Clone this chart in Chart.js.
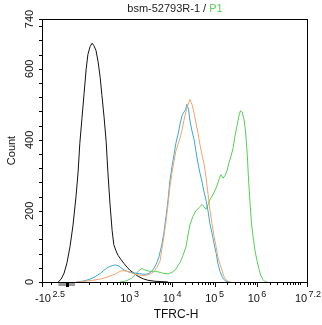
<!DOCTYPE html>
<html>
<head>
<meta charset="utf-8">
<script src="https://cdn.jsdelivr.net/npm/chart.js@4.4.1/dist/chart.umd.min.js"></script>
<style>
  html, body { margin: 0; padding: 0; background: #fff; }
  canvas { display: block; }
</style>
</head>
<body>
<canvas id="histChart" width="322" height="325"></canvas>
<script>
// Histogramas TFRC-H - eje X en unidades de decada (escala biexponencial)
const FONT = '"Liberation Sans", Arial, sans-serif';

// Control (negro)
const blackX = [1.32,1.39,1.46,1.53,1.60,1.67,1.74,1.79,1.83,1.88,1.93,1.98,2.02,2.07,2.12,2.16,2.21,2.26,2.31,2.35,2.40,2.45,2.49,2.54,2.59,2.63,2.68,2.73,2.80,2.87,2.94,3.01,3.11,3.20,3.32,3.43,3.60,3.76,3.91];
const blackY = [0,8,25,55,100,160,240,310,390,460,530,600,640,662,672,665,652,620,575,525,465,395,310,220,145,105,88,75,63,52,42,33,24,16,9,5,2,1,0];

// Naranja
const orangeX = [1.74,1.95,2.14,2.31,2.45,2.56,2.66,2.73,2.80,2.87,2.94,3.04,3.13,3.25,3.36,3.48,3.58,3.65,3.72,3.76,3.81,3.86,3.91,3.95,4.00,4.05,4.09,4.14,4.19,4.24,4.28,4.33,4.38,4.42,4.47,4.52,4.56,4.61,4.66,4.71,4.75,4.80,4.85,4.89,4.94,4.99,5.04,5.08,5.13,5.18,5.22,5.27,5.32,5.39];
const orangeY = [0,2,5,8,13,18,22,27,31,32,30,26,22,19,18,22,30,42,60,92,128,172,222,268,308,342,368,388,405,430,455,480,500,514,500,475,450,420,385,355,335,295,245,205,165,128,98,70,50,32,16,6,2,0];

// Azul
const blueX = [1.76,1.93,2.07,2.19,2.31,2.40,2.49,2.59,2.66,2.73,2.80,2.87,2.96,3.08,3.20,3.32,3.41,3.48,3.55,3.62,3.69,3.76,3.81,3.86,3.91,3.95,4.00,4.05,4.09,4.14,4.19,4.24,4.28,4.32,4.35,4.39,4.42,4.47,4.52,4.56,4.61,4.66,4.71,4.75,4.80,4.85,4.89,4.94,4.99,5.04,5.08,5.13,5.18,5.22,5.27,5.34];
const blueY = [0,3,8,15,24,33,41,46,48,46,40,34,29,26,24,22,22,26,34,48,70,105,140,185,235,285,325,360,390,415,445,470,478,485,500,485,455,425,400,370,335,305,280,255,230,198,165,138,108,80,52,29,15,7,2,0];

// P1 (verde)
const greenX = [2.78,2.92,3.04,3.13,3.22,3.29,3.36,3.43,3.53,3.62,3.72,3.81,3.91,4.00,4.09,4.19,4.26,4.33,4.38,4.42,4.49,4.56,4.64,4.71,4.75,4.80,4.85,4.89,4.96,5.04,5.11,5.15,5.20,5.25,5.29,5.34,5.39,5.44,5.48,5.53,5.58,5.61,5.65,5.69,5.73,5.77,5.80,5.84,5.87,5.91,5.95,6.00,6.05,6.09,6.14,6.19,6.24];
const greenY = [0,3,10,20,32,38,34,31,30,30,27,24,23,27,36,55,75,100,135,160,184,200,210,218,212,205,218,231,245,265,290,302,292,300,312,335,355,378,410,440,470,482,478,460,425,360,290,215,165,125,90,60,35,18,7,1,0];

// Ejes
const xMajorValues = [-316, 1e3, 1e4, 1e5, 1e6, Math.pow(10, 7.2)];
const xMajorLabels = [['-10', '2.5'], ['10', '3'], ['10', '4'], ['10', '5'], ['10', '6'], ['10', '7.2']];
const yLabels = [0, 200, 400, 600, 740];
const yMinorStep = 40;

// valor -> posicion en el eje (lineal bajo cero, asinh hasta 10^3, log arriba)
function toAxis(v) {
  if (v < 0) return 1.535 + v * 0.001883;
  if (v < 1000) return 1.535 + Math.asinh(v / 69.5) / Math.LN10;
  return Math.log10(v);
}

function xMinorValues() {
  const out = [-200, -100];
  for (let m = 1; m <= 9; m++) out.push(m * 100);
  for (let e = 3; e <= 6; e++) {
    for (let m = 2; m <= 9; m++) out.push(m * Math.pow(10, e));
  }
  out.push(1e7);
  return out;
}

function pts(xs, ys) {
  return xs.map((x, i) => ({x: x, y: ys[i]}));
}

const axisFrame = {
  id: 'axisFrame',
  afterDraw(chart) {
    const {ctx, chartArea: a, scales: {x, y}} = chart;
    ctx.save();
    ctx.strokeStyle = '#000';
    ctx.fillStyle = '#000';
    ctx.lineWidth = 1;
    ctx.strokeRect(a.left + 0.5, a.top + 0.5, a.right - a.left - 1, a.bottom - a.top);

    // ticks eje Y
    ctx.beginPath();
    for (let v = 0; v <= 740; v += yMinorStep) {
      const py = Math.round(y.getPixelForValue(v)) + 0.5;
      ctx.moveTo(a.left - 3, py);
      ctx.lineTo(a.left, py);
    }
    const pTop = Math.round(y.getPixelForValue(740)) + 0.5;
    ctx.moveTo(a.left - 3, pTop);
    ctx.lineTo(a.left, pTop);
    ctx.stroke();

    ctx.font = '11px ' + FONT;
    ctx.fillStyle = '#111';
    ctx.textAlign = 'center';
    ctx.textBaseline = 'alphabetic';
    yLabels.forEach(v => {
      ctx.save();
      ctx.translate(33, y.getPixelForValue(v));
      ctx.rotate(-Math.PI / 2);
      ctx.fillText(String(v), 0, 0);
      ctx.restore();
    });
    ctx.save();
    ctx.translate(15, (a.top + a.bottom) / 2);
    ctx.rotate(-Math.PI / 2);
    ctx.fillText('Count', 0, 0);
    ctx.restore();

    // ticks eje X
    ctx.strokeStyle = '#000';
    ctx.beginPath();
    xMinorValues().forEach(v => {
      const px = Math.round(x.getPixelForValue(toAxis(v))) + 0.5;
      ctx.moveTo(px, a.bottom);
      ctx.lineTo(px, a.bottom + 3);
    });
    xMajorValues.forEach(v => {
      const px = Math.min(Math.round(x.getPixelForValue(toAxis(v))), a.right - 1) + 0.5;
      ctx.moveTo(px, a.bottom);
      ctx.lineTo(px, a.bottom + 5);
    });
    ctx.stroke();

    // zona lineal y marca del cero
    const z0 = x.getPixelForValue(toAxis(-110));
    const z1 = x.getPixelForValue(toAxis(30));
    ctx.fillStyle = '#9a9a9a';
    ctx.fillRect(z0, a.bottom + 1, z1 - z0, 3);
    ctx.fillStyle = '#000';
    const zc = Math.round(x.getPixelForValue(toAxis(0)));
    ctx.fillRect(zc - 1, a.bottom + 1, 3, 4);

    // etiquetas con exponente
    ctx.fillStyle = '#111';
    ctx.textAlign = 'left';
    xMajorValues.forEach((v, i) => {
      const [base, exp] = xMajorLabels[i];
      ctx.font = '11px ' + FONT;
      const w1 = ctx.measureText(base).width + 1.5;
      ctx.font = '9px ' + FONT;
      const w2 = ctx.measureText(exp).width;
      const px = x.getPixelForValue(toAxis(v));
      const start = Math.max(px - (w1 + w2) / 2, 35);
      ctx.font = '11px ' + FONT;
      ctx.fillText(base, start, 302);
      ctx.font = '9px ' + FONT;
      ctx.fillText(exp, start + w1, 297);
    });

    ctx.font = '12px ' + FONT;
    ctx.textAlign = 'center';
    ctx.fillText('TFRC-H', (a.left + a.right) / 2 + 1, 318);

    // titulo en dos colores
    ctx.font = '11px ' + FONT;
    const t1 = 'bsm-52793R-1 / ';
    const t2 = 'P1';
    const w1 = ctx.measureText(t1).width;
    const w2 = ctx.measureText(t2).width;
    const tx = (a.left + a.right) / 2 - (w1 + w2) / 2;
    ctx.textAlign = 'left';
    ctx.fillStyle = '#222';
    ctx.fillText(t1, tx, 12);
    ctx.fillStyle = '#5ccf5c';
    ctx.fillText(t2, tx + w1, 12);
    ctx.restore();
  }
};

const lineStyle = {borderWidth: 1, pointRadius: 0, fill: false, tension: 0};

new Chart(document.getElementById('histChart'), {
  type: 'line',
  data: {
    datasets: [
      {...lineStyle, label: 'orange', data: pts(orangeX, orangeY), borderColor: '#f2a46c'},
      {...lineStyle, label: 'blue', data: pts(blueX, blueY), borderColor: '#38a9d8'},
      {...lineStyle, label: 'P1', data: pts(greenX, greenY), borderColor: '#55cf55'},
      {...lineStyle, label: 'control', data: pts(blackX, blackY), borderColor: '#111'}
    ]
  },
  options: {
    responsive: false,
    animation: false,
    devicePixelRatio: 1,
    layout: {padding: {left: 42, right: 14, top: 19, bottom: 43}},
    scales: {
      x: {type: 'linear', min: 0.94, max: 7.2, display: false},
      y: {min: 0, max: 740, display: false}
    },
    plugins: {legend: {display: false}, tooltip: {enabled: false}}
  },
  plugins: [axisFrame]
});
</script>
</body>
</html>
